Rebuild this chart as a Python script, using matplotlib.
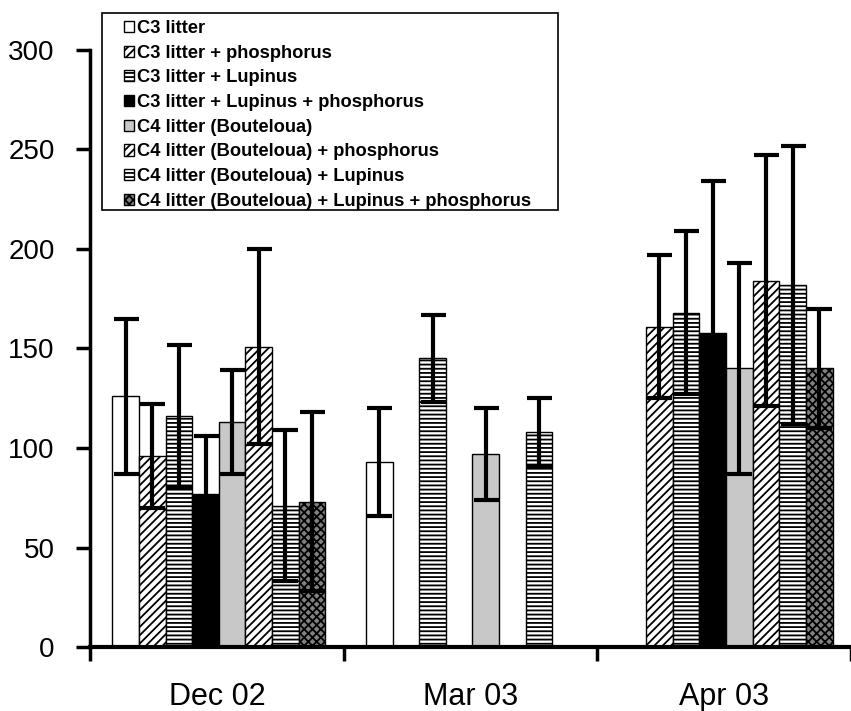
import numpy as np
import matplotlib
matplotlib.use("Agg")
from matplotlib import pyplot as plt
from matplotlib.patches import Rectangle

plt.rcParams["font.family"] = ["Liberation Sans", "DejaVu Sans"]
plt.rcParams["hatch.linewidth"] = 1.3

groups = ["Dec 02", "Mar 03", "Apr 03"]
treatments = [
    "C3 litter",
    "C3 litter + phosphorus",
    "C3 litter + Lupinus",
    "C3 litter + Lupinus + phosphorus",
    "C4 litter (Bouteloua)",
    "C4 litter (Bouteloua) + phosphorus",
    "C4 litter (Bouteloua) + Lupinus",
    "C4 litter (Bouteloua) + Lupinus + phosphorus",
]
nan = np.nan
dec_means = [126, 96, 116, 77, 113, 151, 71, 73]
dec_err = [39, 26, 36, 29, 26, 49, 38, 45]
mar_means = [93, nan, 145, nan, 97, nan, 108, nan]
mar_err = [27, nan, 22, nan, 23, nan, 17, nan]
apr_means = [nan, 161, 168, 158, 140, 184, 182, 140]
apr_err = [nan, 36, 41, 76, 53, 63, 70, 30]

means = np.array([dec_means, mar_means, apr_means])
errs = np.array([dec_err, mar_err, apr_err])

styles = [
    dict(facecolor="white", hatch=None),
    dict(facecolor="white", hatch="////"),
    dict(facecolor="white", hatch="----"),
    dict(facecolor="black", hatch=None),
    dict(facecolor="#c8c8c8", hatch=None),
    dict(facecolor="white", hatch="////"),
    dict(facecolor="white", hatch="----"),
    dict(facecolor="#808080", hatch="xxxx"),
]

fig = plt.figure(figsize=(8.51, 7.11), dpi=100)
ax = fig.add_axes([0.1058, 0.090, 0.894, 0.8397])

width = 0.105
offset = 0.088
gx = np.arange(len(groups))
handles = []
for k, name in enumerate(treatments):
    x = gx + offset + width * (k + 0.5)
    h = ax.bar(x, means[:, k], width, edgecolor="black", linewidth=1.0,
               label=name, zorder=2, **styles[k])
    handles.append(h)
    ax.errorbar(x, means[:, k], yerr=errs[:, k], fmt="none", ecolor="black",
                elinewidth=3, capsize=9, capthick=3, zorder=3)

ax.set_xlim(0, 3)
ax.set_ylim(0, 300)
ax.set_yticks(np.arange(0, 301, 50))
ax.set_xticks([0, 1, 2, 3])
ax.set_xticklabels([])
ax.set_xticks(gx + 0.5, minor=True)
ax.set_xticklabels(groups, minor=True)
ax.tick_params(axis="x", which="minor", length=0, pad=25, labelsize=22)
ax.tick_params(axis="x", which="major", length=10, width=2.5, direction="out")
ax.tick_params(axis="y", length=10, width=2.5, direction="out", pad=15.5, labelsize=20)
for s in ("top", "right"):
    ax.spines[s].set_visible(False)
ax.spines["left"].set_linewidth(2.5)
ax.spines["bottom"].set_linewidth(3)

# legend frame drawn by hand: it is wider than the entries need
W, H = 851, 711
fig.patches.append(Rectangle((102 / W, 1 - 210 / H), 456 / W, 197 / H,
                             transform=fig.transFigure, facecolor="white",
                             edgecolor="black", linewidth=1.2, zorder=4))
leg = fig.legend(handles=handles, loc="upper left",
                 bbox_to_anchor=(124 / W, 1 - 20 / H), borderaxespad=0,
                 frameon=False, prop=dict(size=13.2, weight="bold"),
                 handlelength=0.55, handleheight=0.55, handletextpad=0.15,
                 labelspacing=0.42, borderpad=0)
leg.set_zorder(5)

fig.savefig("out.png", dpi=100)
